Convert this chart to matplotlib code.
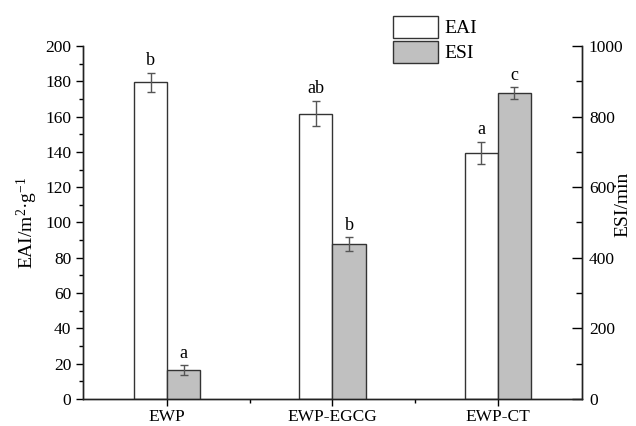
import matplotlib
matplotlib.use("Agg")
import matplotlib.pyplot as plt
import numpy as np
from matplotlib.patches import Patch
from matplotlib.ticker import MultipleLocator, FixedLocator

plt.rcParams['font.family'] = ['Liberation Serif', 'DejaVu Serif']
plt.rcParams['mathtext.default'] = 'regular'
plt.rcParams['font.size'] = 12.5

samples = ["EWP", "EWP-EGCG", "EWP-CT"]
eai = [179.4, 161.7, 139.5]
eai_err = [5.4, 7.2, 6.3]
esi = [82, 439, 866]
esi_err = [13, 19, 17]
eai_letters = ["b", "ab", "a"]
esi_letters = ["a", "b", "c"]

x = np.arange(len(samples))
w = 0.2
edge = "#333333"

fig = plt.figure(figsize=(6.36, 4.26), dpi=100)
ax = fig.add_axes([0.1305, 0.0634, 0.7845, 0.8286])
ax2 = ax.twinx()

ax.bar(x - w/2, eai, w, color="white", edgecolor=edge, linewidth=1.0, zorder=2)
ax.errorbar(x - w/2, eai, yerr=eai_err, fmt="none", ecolor="#555555",
            elinewidth=1.0, capsize=3, capthick=1.0, zorder=3)
ax2.bar(x + w/2, esi, w, color="#c0c0c0", edgecolor=edge, linewidth=1.0, zorder=2)
ax2.errorbar(x + w/2, esi, yerr=esi_err, fmt="none", ecolor="#555555",
             elinewidth=1.0, capsize=3, capthick=1.0, zorder=3)

for i in range(len(samples)):
    ax.text(x[i] - w/2, eai[i] + eai_err[i] + 2, eai_letters[i],
            ha="center", va="bottom", fontsize=13)
    ax2.text(x[i] + w/2, esi[i] + esi_err[i] + 10, esi_letters[i],
             ha="center", va="bottom", fontsize=13)

ax.set_xlim(-0.51, 2.51)
ax.set_ylim(0, 200)
ax2.set_ylim(0, 1000)
ax.set_xticks(x)
ax.set_xticklabels(samples)
ax.xaxis.set_minor_locator(FixedLocator([0.5, 1.5]))
ax.yaxis.set_major_locator(MultipleLocator(20))
ax.yaxis.set_minor_locator(MultipleLocator(10))
ax2.yaxis.set_major_locator(MultipleLocator(200))
ax2.yaxis.set_minor_locator(MultipleLocator(100))
ax.tick_params(axis="y", which="major", length=5, width=1, labelsize=12.5)
ax.tick_params(axis="y", which="minor", length=3, width=1)
ax.tick_params(axis="x", which="major", length=5, width=1, labelsize=12.5, pad=2)
ax.tick_params(axis="x", which="minor", length=3, width=1)
ax2.tick_params(axis="y", which="major", direction="in", length=7, width=1,
                labelsize=12.5, pad=5)
ax2.tick_params(axis="y", which="minor", direction="in", length=4, width=1)

for a in (ax, ax2):
    a.spines["top"].set_visible(False)
    for s in ("left", "right", "bottom"):
        a.spines[s].set_linewidth(1.0)
        a.spines[s].set_color("#222222")

ax.set_ylabel("EAI/m$^{2}$·g$^{-1}$", fontsize=14)
ax2.set_ylabel("ESI/min", fontsize=14, rotation=90, va="center", ha="center")
ax2.yaxis.set_label_coords(1.082, 0.55)

handles = [Patch(facecolor="white", edgecolor=edge, linewidth=1.0),
           Patch(facecolor="#c0c0c0", edgecolor=edge, linewidth=1.0)]
fig.legend(handles, ["EAI", "ESI"], loc="upper left",
           bbox_to_anchor=(393/636, 1 - 16/426), frameon=False,
           borderpad=0, borderaxespad=0, handlelength=2.3, handleheight=1.35,
           handletextpad=0.35, labelspacing=0.15, fontsize=14)

fig.savefig("out.png", dpi=100)
